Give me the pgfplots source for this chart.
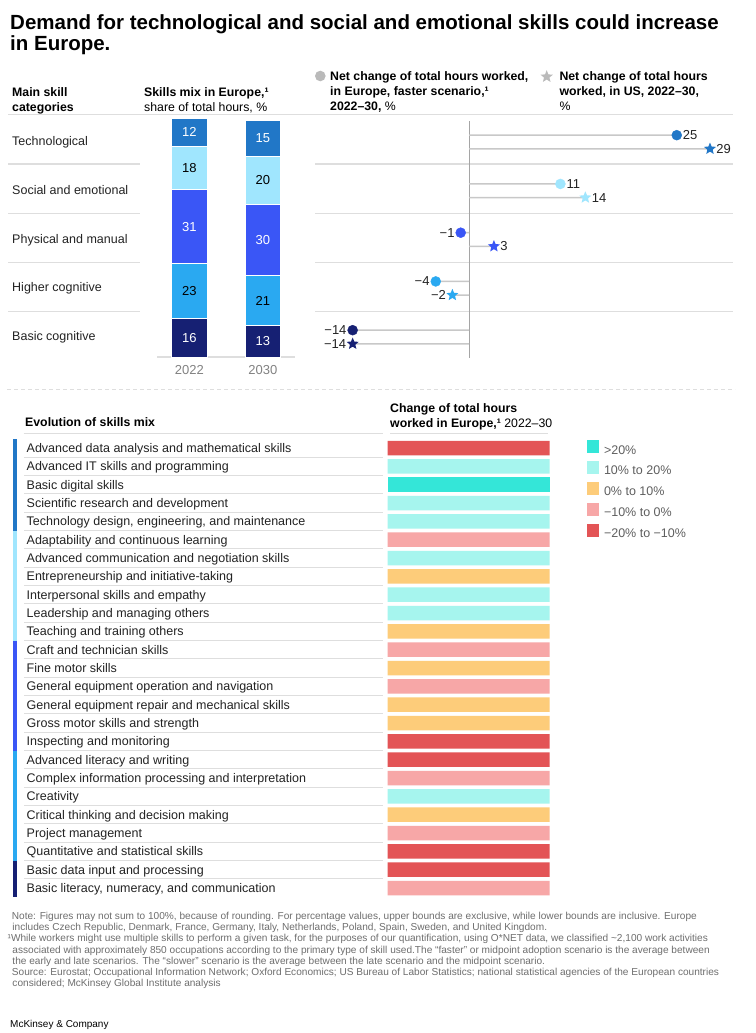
\documentclass[border=0pt]{standalone}
\usepackage{pgfplots}
\pgfplotsset{compat=1.18}
\usepackage{pgfplotstable}
\usepackage{fontspec}
\setmainfont{Liberation Sans}
\usetikzlibrary{shapes.geometric}

\definecolor{techc}{RGB}{33,119,199}
\definecolor{socc}{RGB}{160,230,254}
\definecolor{physc}{RGB}{58,86,246}
\definecolor{highc}{RGB}{42,169,241}
\definecolor{basicc}{RGB}{22,32,115}
\definecolor{hA}{RGB}{52,230,216}
\definecolor{hB}{RGB}{166,245,238}
\definecolor{hC}{RGB}{253,204,122}
\definecolor{hD}{RGB}{247,167,167}
\definecolor{hE}{RGB}{227,84,86}
\definecolor{rule}{RGB}{222,222,222}
\definecolor{stem}{RGB}{200,200,200}
\definecolor{zeroc}{RGB}{165,165,165}
\definecolor{txt}{RGB}{35,35,35}
\definecolor{note}{RGB}{110,110,110}
\definecolor{yearc}{RGB}{130,130,130}
\definecolor{legc}{RGB}{95,95,95}

\newcommand\fs[1]{\fontsize{#1}{#1}\selectfont}

\pgfdeclareplotmark{fstar}{%
  \pgfpathmoveto{\pgfpointpolar{90}{\pgfplotmarksize}}%
  \pgfpathlineto{\pgfpointpolar{126}{0.45\pgfplotmarksize}}%
  \pgfpathlineto{\pgfpointpolar{162}{\pgfplotmarksize}}%
  \pgfpathlineto{\pgfpointpolar{198}{0.45\pgfplotmarksize}}%
  \pgfpathlineto{\pgfpointpolar{234}{\pgfplotmarksize}}%
  \pgfpathlineto{\pgfpointpolar{270}{0.45\pgfplotmarksize}}%
  \pgfpathlineto{\pgfpointpolar{306}{\pgfplotmarksize}}%
  \pgfpathlineto{\pgfpointpolar{342}{0.45\pgfplotmarksize}}%
  \pgfpathlineto{\pgfpointpolar{18}{\pgfplotmarksize}}%
  \pgfpathlineto{\pgfpointpolar{54}{0.45\pgfplotmarksize}}%
  \pgfpathclose
  \pgfusepathqfill}

\pgfplotsset{
  /pgf/number format/assume math mode=true,
  lolli/.style={scatter, only marks, scatter src=explicit symbolic},
  labs/.style={only marks, mark=none, nodes near coords={\pgfplotspointmeta},
    point meta=explicit symbolic,
    every node near coord/.append style={inner sep=0pt, font=\fs{13}, text=txt}},
  pos/.style={restrict x to domain=0:100, every node near coord/.append style={anchor=west, xshift=#1}},
  neg/.style={restrict x to domain=-100:0, every node near coord/.append style={anchor=east, xshift=-#1}},
  seglab/.style={only marks, mark=none, nodes near coords, point meta=explicit,
    every node near coord/.append style={anchor=center, inner sep=0pt, font=\fs{13}, text=#1}},
}

% skills mix, share of total hours (%)
\pgfplotstableread{
yr basic higher physical social tech
0  16    23     31       18     12
1  13    21     30       20     15
}\mixdata

% net change Europe, faster scenario (%)
\pgfplotstableread{
x   y     lab
25  -0.14 25
11  0.86  11
-1  1.86  −1
-4  2.86  −4
-14 3.86  −14
}\eudata

% net change US (%)
\pgfplotstableread{
x   y     lab
29  0.14  29
14  1.14  14
3   2.14  3
-2  3.14  −2
-14 4.14  −14
}\usdata

\begin{document}
\begin{tikzpicture}
\path[use as bounding box, fill=white] (0pt,0pt) rectangle (755pt,-1033pt);

\begin{scope}[x=1pt,y=-1pt]
% title
\node[anchor=base west, inner sep=0pt, font=\bfseries\fs{20.5}] at (10,29.5) {Demand for technological and social and emotional skills could increase};
\node[anchor=base west, inner sep=0pt, font=\bfseries\fs{20.5}] at (10,50.5) {in Europe.};

% top headers
\node[anchor=base west, inner sep=0pt, font=\bfseries\fs{12.3}] at (12,96.2) {Main skill};
\node[anchor=base west, inner sep=0pt, font=\bfseries\fs{12.3}] at (12,111.2) {categories};
\node[anchor=base west, inner sep=0pt, font=\bfseries\fs{12.3}] at (144,96.2) {Skills mix in Europe,¹};
\node[anchor=base west, inner sep=0pt, font=\fs{12.3}] at (144,111.2) {share of total hours, \%};

\fill[black!27] (320.3,76) circle (5.3);
\node[anchor=base west, inner sep=0pt, font=\bfseries\fs{12.3}] at (330,80.2) {Net change of total hours worked,};
\node[anchor=base west, inner sep=0pt, font=\bfseries\fs{12.3}] at (330,95.5) {in Europe, faster scenario,¹};
\node[anchor=base west, inner sep=0pt, font=\fs{12.3}] at (330,110.5) {\textbf{2022–30,} \%};

\node[star, star points=5, star point ratio=2.3, fill=black!27, minimum size=13pt, inner sep=0pt] at (546.7,76.7) {};
\node[anchor=base west, inner sep=0pt, font=\bfseries\fs{12.3}] at (559.3,80.2) {Net change of total hours};
\node[anchor=base west, inner sep=0pt, font=\bfseries\fs{12.3}] at (559.3,95.5) {worked, in US, 2022–30,};
\node[anchor=base west, inner sep=0pt, font=\fs{12.3}] at (559.3,110.5) {\%};

% rules top
\draw[rule, line width=1.1pt] (8,114.3) -- (733,114.3);
\foreach \yy in {164,213.3,262.3,311.7} {
  \draw[rule, line width=1.1pt] (8,\yy) -- (140,\yy);
  \draw[rule, line width=1.1pt] (315,\yy) -- (733,\yy);
}
% dashed separator
\draw[rule, line width=1pt, dash pattern=on 4pt off 3pt] (7,389) -- (735,389);

% bottom headers
\node[anchor=base west, inner sep=0pt, font=\bfseries\fs{12.3}] at (25,426.8) {Evolution of skills mix};
\node[anchor=base west, inner sep=0pt, font=\bfseries\fs{12.3}] at (390,412.5) {Change of total hours};
\node[anchor=base west, inner sep=0pt, font=\fs{12.3}] at (390,427.5) {\textbf{worked in Europe,¹} 2022–30};
\draw[rule, line width=1.1pt] (23.5,433.3) -- (383,433.3);
\draw[rule, line width=1.1pt] (390,433.3) -- (548,433.3);
\foreach \r in {0,...,23} {
  \draw[rule, line width=1.1pt] (24,{448+18.3333*(\r+0.5)}) -- (383,{448+18.3333*(\r+0.5)});
}
% group bars
\fill[techc]  (12.5,438.8) rectangle (16.8,530.5);
\fill[socc]   (12.5,530.5) rectangle (16.8,640.5);
\fill[physc]  (12.5,640.5) rectangle (16.8,750.5);
\fill[highc]  (12.5,750.5) rectangle (16.8,860.5);
\fill[basicc] (12.5,860.5) rectangle (16.8,897.2);

% footnotes
\begin{scope}[every node/.style={anchor=base west, inner sep=0pt, font=\fs{10.1}, text=note}]
\node at (11.7,919.1) {Note: Figures may not sum to 100\%, because of rounding. For percentage values, upper bounds are exclusive, while lower bounds are inclusive. Europe};
\node at (12.3,930.4) {includes Czech Republic, Denmark, France, Germany, Italy, Netherlands, Poland, Spain, Sweden, and United Kingdom.};
\node at (7.5,941.7) {¹While workers might use multiple skills to perform a given task, for the purposes of our quantification, using O*NET data, we classified \textasciitilde2,100 work activities};
\node at (12.3,953) {associated with approximately 850 occupations according to the primary type of skill used.The “faster” or midpoint adoption scenario is the average between};
\node at (12.3,964.3) {the early and late scenarios. The “slower” scenario is the average between the late scenario and the midpoint scenario.};
\node at (11.7,975.6) {Source: Eurostat; Occupational Information Network; Oxford Economics; US Bureau of Labor Statistics; national statistical agencies of the European countries};
\node at (12.3,986.9) {considered; McKinsey Global Institute analysis};
\end{scope}
\node[anchor=base west, inner sep=0pt, font=\fs{10}] at (10,1027) {McKinsey \& Company};
\end{scope}

% ---------- stacked bars: skills mix ----------
\begin{axis}[
  at={(157pt,-357pt)}, anchor=south west,
  scale only axis, width=138.18pt, height=239pt,
  xmin=-0.44, xmax=1.44, ymin=0, ymax=100,
  ybar stacked, bar width=35.5pt,
  clip=false,
  axis x line=bottom, axis y line=none,
  x axis line style={draw=rule, line width=1.2pt, -},
  xtick={0,1}, xticklabels={2022,2030}, major tick length=0pt,
  xticklabel style={font=\fs{13}, text=yearc, inner sep=0pt, anchor=base, yshift=-17.7pt},
]
\addplot[fill=basicc, draw=white, line width=0.9pt] table[x=yr,y=basic] {\mixdata};
\addplot[fill=highc, draw=white, line width=0.9pt] table[x=yr,y=higher] {\mixdata};
\addplot[fill=physc, draw=white, line width=0.9pt] table[x=yr,y=physical] {\mixdata};
\addplot[fill=socc, draw=white, line width=0.9pt] table[x=yr,y=social] {\mixdata};
\addplot[fill=techc, draw=white, line width=0.9pt] table[x=yr,y=tech] {\mixdata};
\end{axis}
% segment labels (centred in each segment)
\begin{axis}[
  at={(157pt,-357pt)}, anchor=south west,
  scale only axis, width=138.18pt, height=239pt,
  xmin=-0.44, xmax=1.44, ymin=0, ymax=100,
  hide axis, clip=false,
]
\addplot[seglab=white] table[x=yr, y expr={0.5*\thisrow{basic}}, meta=basic] {\mixdata};
\addplot[seglab=black] table[x=yr, y expr={\thisrow{basic}+0.5*\thisrow{higher}}, meta=higher] {\mixdata};
\addplot[seglab=white] table[x=yr, y expr={\thisrow{basic}+\thisrow{higher}+0.5*\thisrow{physical}}, meta=physical] {\mixdata};
\addplot[seglab=black] table[x=yr, y expr={\thisrow{basic}+\thisrow{higher}+\thisrow{physical}+0.5*\thisrow{social}}, meta=social] {\mixdata};
\addplot[seglab=white] table[x=yr, y expr={\thisrow{basic}+\thisrow{higher}+\thisrow{physical}+\thisrow{social}+0.5*\thisrow{tech}}, meta=tech] {\mixdata};
\end{axis}

% ---------- lollipops: net change ----------
\begin{axis}[
  at={(319.42pt,-361.375pt)}, anchor=south west,
  scale only axis, width=415.5pt, height=243.75pt,
  xmin=-18, xmax=32, ymin=-0.5, ymax=4.5, y dir=reverse,
  clip=false,
  axis line style={draw=none}, xtick=\empty,
  ytick={0,1,2,3,4},
  yticklabels={Technological,Social and emotional,Physical and manual,Higher cognitive,Basic cognitive},
  major tick length=0pt,
  yticklabel style={anchor=base west, inner sep=0pt, xshift=-307.4pt, yshift=-3.5pt, font=\fs{12.5}, text=txt},
]
\draw[zeroc, line width=0.9pt] (axis cs:0,-0.43) -- (axis cs:0,4.43);
\addplot[xbar, bar width=1.4pt, bar shift=0pt, fill=stem, draw=none] table[x=x,y=y] {\eudata};
\addplot[xbar, bar width=1.4pt, bar shift=0pt, fill=stem, draw=none] table[x=x,y=y] {\usdata};
\addplot[lolli, mark=*, mark size=5pt,
  scatter/classes={25={techc},11={socc},−1={physc},−4={highc},−14={basicc}}] table[x=x,y=y,meta=lab] {\eudata};
\addplot[lolli, mark=fstar, mark size=6.3pt,
  scatter/classes={29={techc},14={socc},3={physc},−2={highc},−14={basicc}}] table[x=x,y=y,meta=lab] {\usdata};
\addplot[labs, pos=6pt] table[x=x,y=y,meta=lab] {\eudata};
\addplot[labs, neg=6pt] table[x=x,y=y,meta=lab] {\eudata};
\addplot[labs, pos=6.3pt] table[x=x,y=y,meta=lab] {\usdata};
\addplot[labs, neg=6.3pt] table[x=x,y=y,meta=lab] {\usdata};
\end{axis}

% ---------- heatmap: change of total hours by skill ----------
\begin{axis}[
  at={(387.5pt,-897.17pt)}, anchor=south west,
  scale only axis, width=162pt, height=458.33pt,
  xmin=0, xmax=1, ymin=-0.5, ymax=24.5, y dir=reverse,
  clip=false,
  axis line style={draw=none}, xtick=\empty,
  ytick={0,...,24},
  yticklabels={
    Advanced data analysis and mathematical skills,
    Advanced IT skills and programming,
    Basic digital skills,
    Scientific research and development,
    {Technology design, engineering, and maintenance},
    Adaptability and continuous learning,
    Advanced communication and negotiation skills,
    Entrepreneurship and initiative-taking,
    Interpersonal skills and empathy,
    Leadership and managing others,
    Teaching and training others,
    Craft and technician skills,
    Fine motor skills,
    General equipment operation and navigation,
    General equipment repair and mechanical skills,
    Gross motor skills and strength,
    Inspecting and monitoring,
    Advanced literacy and writing,
    Complex information processing and interpretation,
    Creativity,
    Critical thinking and decision making,
    Project management,
    Quantitative and statistical skills,
    Basic data input and processing,
    {Basic literacy, numeracy, and communication}},
  major tick length=0pt,
  yticklabel style={anchor=base west, inner sep=0pt, xshift=-361pt, yshift=-4.5pt, font=\fs{12.5}, text=txt},
  legend style={at={(1.2315,0.9975)}, anchor=north west, draw=none, fill=none,
    inner sep=0pt, outer sep=0pt, row sep=3.9pt, column sep=5pt,
    font=\fs{12.5}, text=legc,
    nodes={inner sep=0pt, text height=9pt, text depth=3pt}},
  legend cell align=left,
  legend image code/.code={\fill[#1] (0pt,-2pt) rectangle (12pt,11pt);},
]
\addplot[xbar, bar width=14.5pt, bar shift=0pt, draw=none, fill=hA] coordinates {(1,2)};
\addplot[xbar, bar width=14.5pt, bar shift=0pt, draw=none, fill=hB] coordinates {(1,1) (1,3) (1,4) (1,6) (1,8) (1,9) (1,19)};
\addplot[xbar, bar width=14.5pt, bar shift=0pt, draw=none, fill=hC] coordinates {(1,7) (1,10) (1,12) (1,14) (1,15) (1,20)};
\addplot[xbar, bar width=14.5pt, bar shift=0pt, draw=none, fill=hD] coordinates {(1,5) (1,11) (1,13) (1,18) (1,21) (1,24)};
\addplot[xbar, bar width=14.5pt, bar shift=0pt, draw=none, fill=hE] coordinates {(1,0) (1,16) (1,17) (1,22) (1,23)};
\legend{>20\%, 10\% to 20\%, 0\% to 10\%, −10\% to 0\%, −20\% to −10\%}
\end{axis}
\end{tikzpicture}
\end{document}
